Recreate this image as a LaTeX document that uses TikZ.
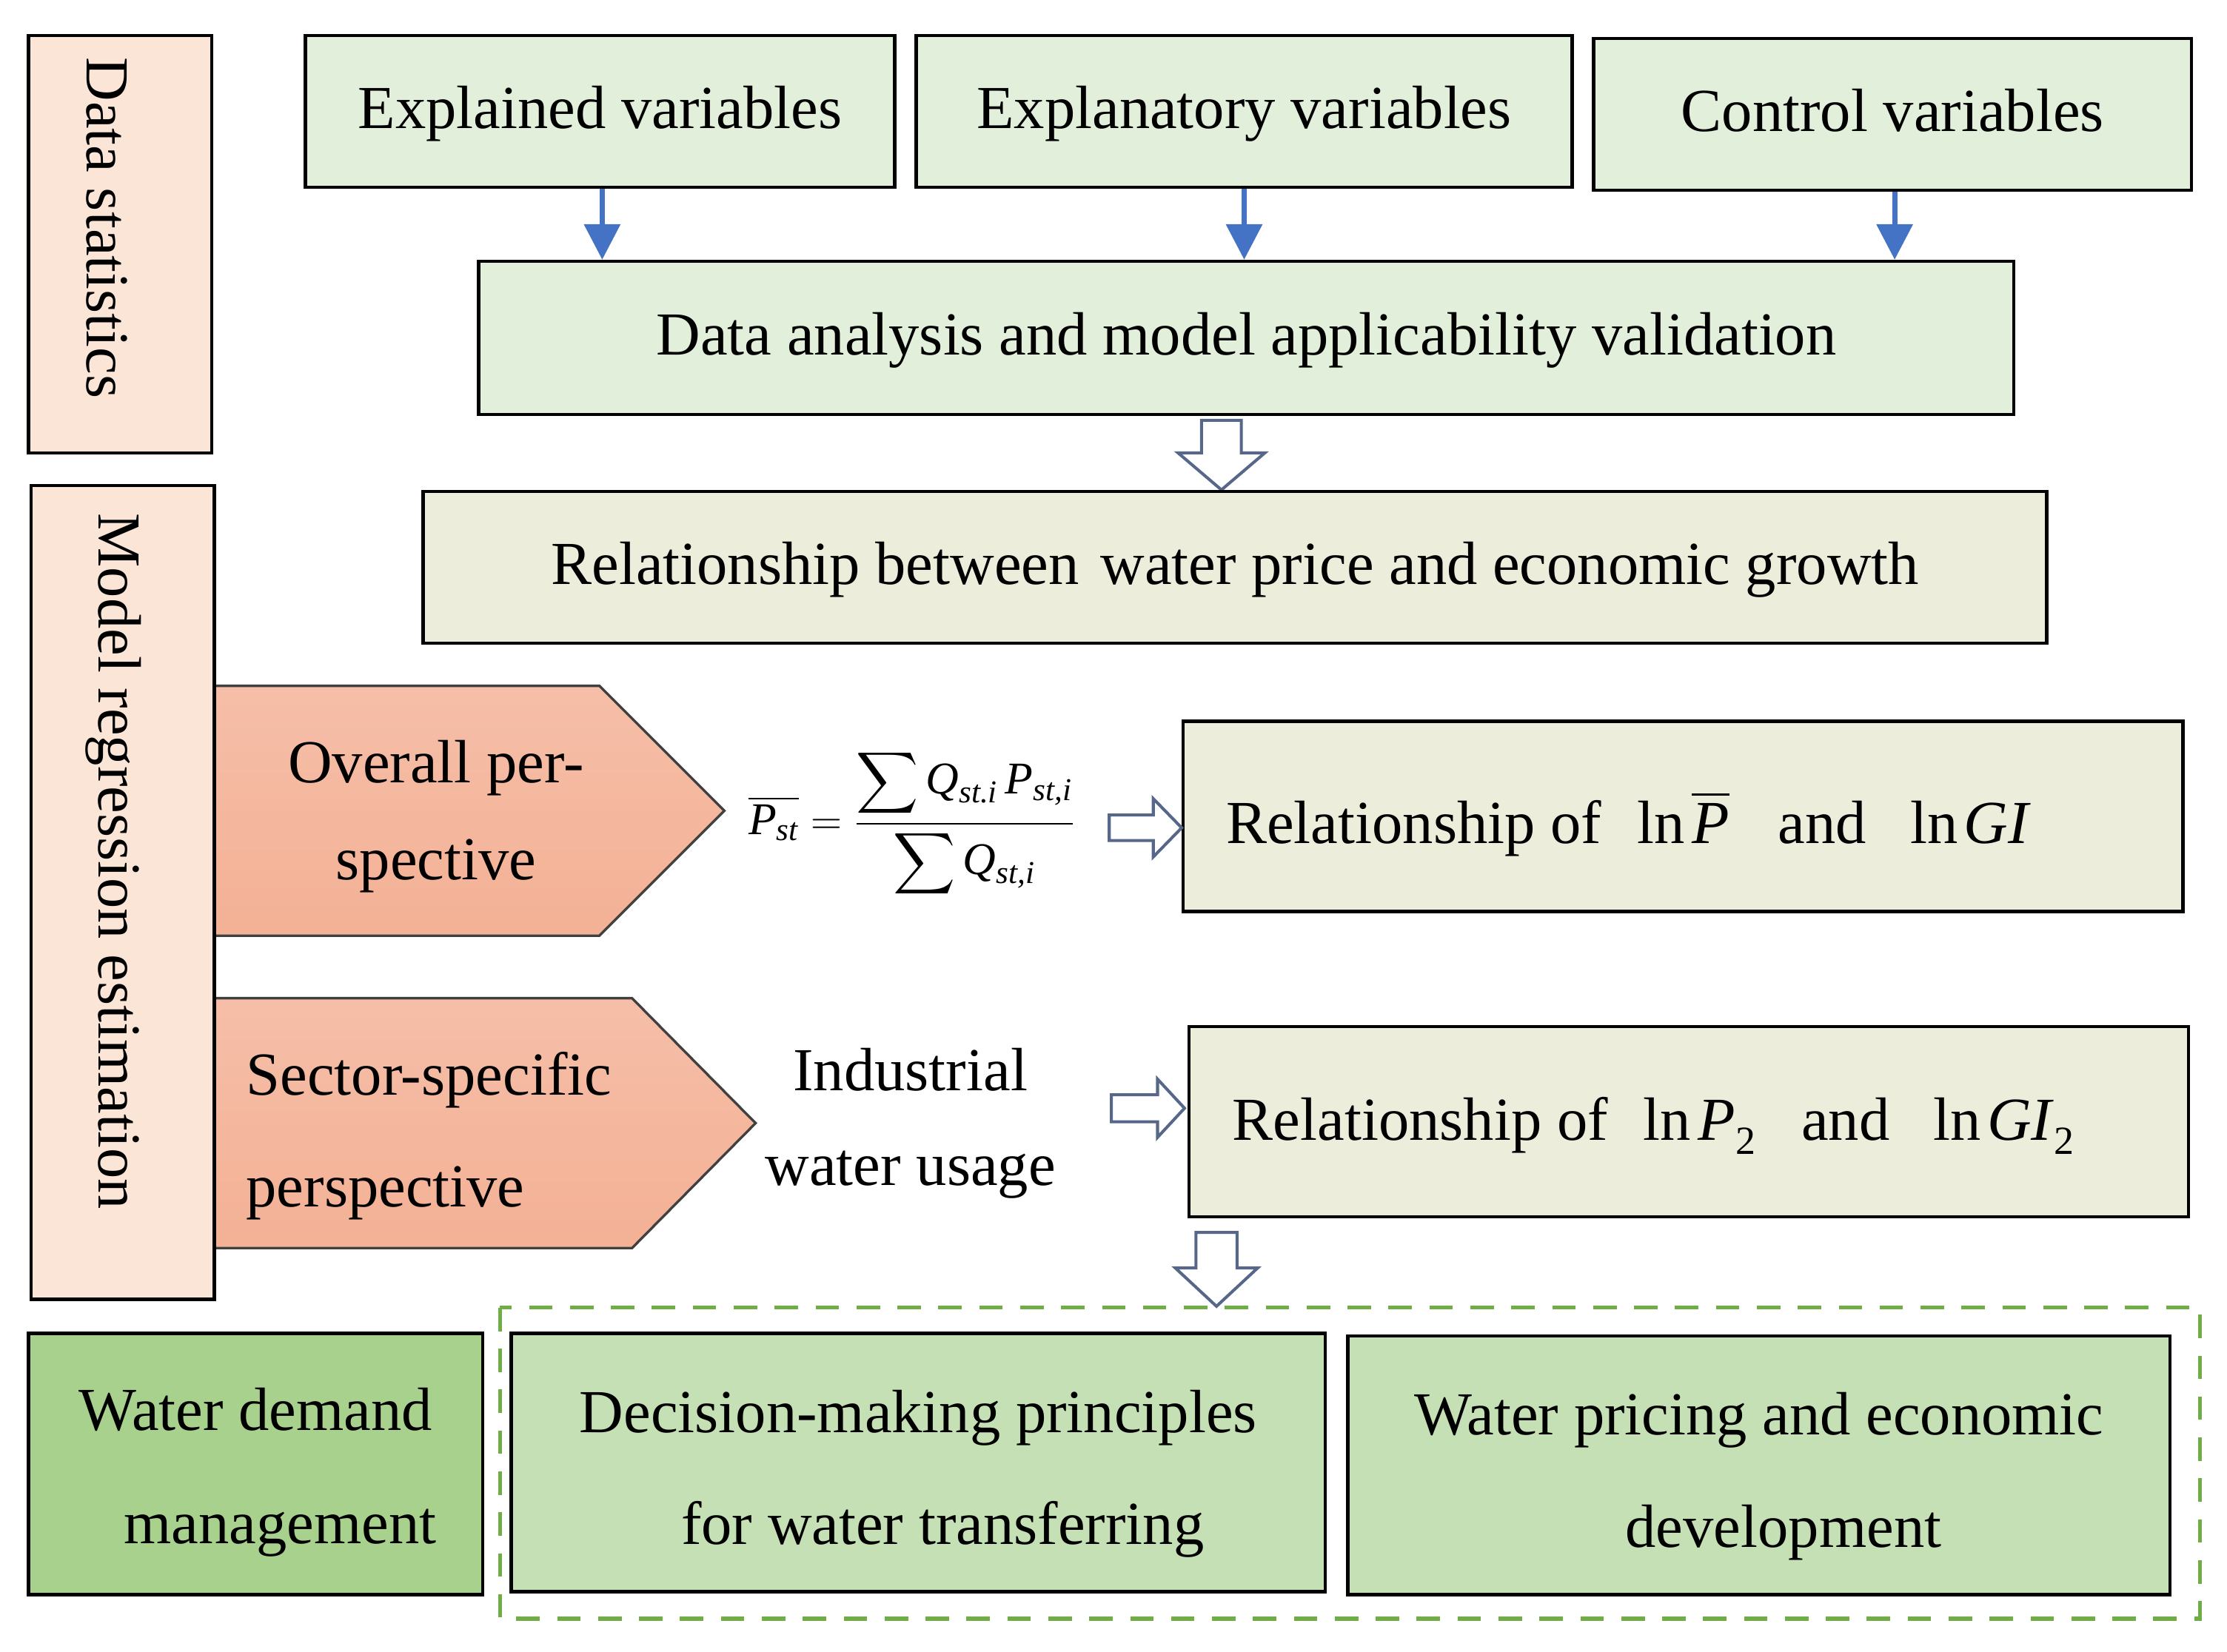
\documentclass[tikz,border=0pt]{standalone}
\usepackage{amsmath}
\usepackage{graphicx}
\usepackage{fontspec}
\setmainfont{Liberation Serif}
\usetikzlibrary{arrows.meta}
\definecolor{peach}{HTML}{FBE5D6}
\definecolor{lgreen}{HTML}{E2EFDA}
\definecolor{beige}{HTML}{ECEDDB}
\definecolor{salmonT}{HTML}{F6BEA8}
\definecolor{salmonB}{HTML}{F3B195}
\definecolor{wdmgreen}{HTML}{A9D18E}
\definecolor{midgreen}{HTML}{C5E0B4}
\definecolor{blueA}{HTML}{4472C4}
\definecolor{dashgreen}{HTML}{70AD47}
\definecolor{hollowc}{HTML}{56678A}
\definecolor{pentline}{HTML}{404040}
\newcommand\mi[1]{\text{\itshape #1}}
\newcommand\hollowdown[6]{\draw[hollow] ({#1-#5},#2) -- ({#1+#5},#2) -- ({#1+#5},#3) -- ({#1+#6},#3) -- (#1,#4) -- ({#1-#6},#3) -- ({#1-#5},#3) -- cycle;}
\newcommand\hollowright[6]{\draw[hollow] (#2,{#1-#5}) -- (#3,{#1-#5}) -- (#3,{#1-#6}) -- (#4,#1) -- (#3,{#1+#6}) -- (#3,{#1+#5}) -- (#2,{#1+#5}) -- cycle;}
\begin{document}
\begin{tikzpicture}[x=0.02cm,y=-0.02cm,
  every node/.style={font=\fontsize{24.5}{29}\selectfont, inner sep=0pt},
  sz/.style 2 args={minimum width={#1*0.02cm}, minimum height={#2*0.02cm}},
  box/.style={draw=black, line width=1.3pt, text height=18.5pt, text depth=4.8pt},
  twobox/.style={draw=black, line width=1.3pt, align=center},
  bluearr/.style={draw=blueA, line width=2.1pt, -{Triangle[width=0.5cm,length=0.5cm]}},
  hollow/.style={draw=hollowc, line width=1.2pt, fill=white, line join=miter},
  pent/.style={draw=pentline, line width=1pt, top color=salmonT, bottom color=salmonB},
]
\useasboundingbox (0,0) rectangle (1568,1163);

% Data statistics
\node[box, fill=peach, sz={129}{294}] (dsb) at (84.5,172) {};
\node[rotate=-90, anchor=base] (dst) at (61.3,160.5) {Data statistics};

% top variable boxes
\node[box, fill=lgreen, sz={415}{107}] (ev) at (422.5,78.5) {Explained variables};
\node[box, fill=lgreen, sz={462}{107}] (xv) at (876,78.5) {Explanatory variables};
\node[box, fill=lgreen, sz={421}{107}] (cv) at (1332.5,80.5) {Control variables};

\node[box, fill=lgreen, sz={1081}{108}] (da) at (877.5,238) {Data analysis and model applicability validation};

\draw[bluearr] ([xshift=0.03cm]ev.south) -- ([xshift=0.03cm]ev.south |- da.north);
\draw[bluearr] (xv.south) -- (xv.south |- da.north);
\draw[bluearr] ([xshift=0.03cm]cv.south) -- ([xshift=0.03cm]cv.south |- da.north);

\hollowdown{860}{296}{319}{345}{14}{30.5}

\node[box, fill=beige, sz={1143}{107}] (rel) at (869.5,399.5) {Relationship between\hspace{0.35em}water price and economic growth};

% pentagons
\draw[pent] (151,483) -- (422,483) -- (510,571) -- (422,659) -- (151,659) -- cycle;
\draw[pent] (151,703) -- (445,703) -- (532,791) -- (445,879) -- (151,879) -- cycle;

% Model regression estimation
\node[box, fill=peach, sz={129}{573}] (msb) at (86.5,628.5) {};
\node[rotate=-90, anchor=base] (mst) at (69.5,606.5) {Model regression estimation};

\node[align=center, font=\fontsize{24.5}{38.7}\selectfont] (op) at (307,575) {Overall per-\\spective};
\node[align=left, anchor=west, font=\fontsize{24.5}{45}\selectfont] (sp) at (173,800) {Sector-specific\\perspective};

% formula
\node (fm) at (642,580) {\resizebox*{4.6cm}{2.1cm}{\fontsize{22}{26}\selectfont$\displaystyle \overline{\mi{P}_{\mi{st}}}=\frac{\displaystyle\sum \mi{Q}_{\mi{st.i}}\,\mi{P}_{\mi{st,i}}}{\displaystyle\sum \mi{Q}_{\mi{st,i}}}$}};

\node[align=center, font=\fontsize{24.5}{38}\selectfont] (iw) at (641,791) {Industrial\\water usage};

% relationship boxes
\node[draw=black, line width=1.3pt, fill=beige, sz={704}{134}] (r1) at (1185,575) {};
\node[draw=black, line width=1.3pt, fill=beige, sz={704}{134}] (r2) at (1189,790) {};
\node[anchor=base west] (t1) at (863,594) {Relationship of\hspace{0.58em}ln\hspace{0.12em}$\overline{\mbox{\itshape P}}$\hspace{0.8em}and\hspace{0.72em}ln\hspace{0.1em}\textit{GI}};
\node[anchor=base west] (t2) at (867.5,803) {Relationship of\hspace{0.58em}ln\hspace{0.12em}\textit{P}\raisebox{-5.7pt}{\fontsize{16}{16}\selectfont 2}\hspace{0.75em}and\hspace{0.72em}ln\hspace{0.1em}\textit{GI}\raisebox{-5.7pt}{\fontsize{16}{16}\selectfont 2}};

\hollowright{583}{781}{812}{832}{9}{20.5}
\hollowright{780.5}{782.5}{815}{834}{9.5}{20.5}

\hollowdown{856.5}{868}{893}{920}{14.5}{29}

% bottom
\draw[dashgreen, line width=1.5pt, dash pattern=on 9.4pt off 7pt] (352,921) rectangle (1549,1140);
\node[twobox, fill=wdmgreen, sz={320}{184}, font=\fontsize{24.5}{45.5}\selectfont] (wdm) at (180,1031) {\rule{0pt}{23.7pt}Water demand\\\hspace{0.8em}management};
\node[twobox, fill=midgreen, sz={573}{182}, font=\fontsize{24.5}{45}\selectfont] (dmp) at (646.5,1030) {\rule{0pt}{26pt}Decision-making principles\\\hspace{0.8em}for water transferring};
\node[twobox, fill=midgreen, sz={579}{182}, font=\fontsize{24.5}{45}\selectfont] (wpe) at (1238.5,1032) {\rule{0pt}{26pt}Water pricing and economic\\\hspace{0.8em}development};
\end{tikzpicture}
\end{document}
